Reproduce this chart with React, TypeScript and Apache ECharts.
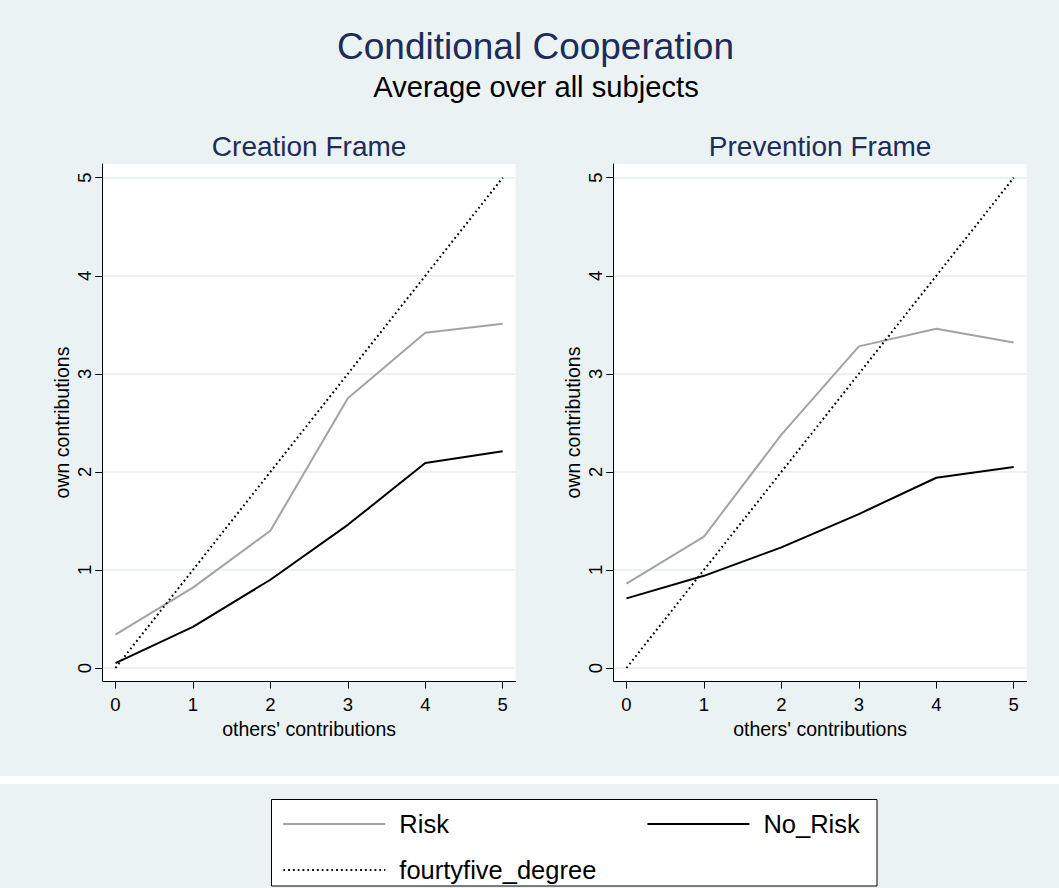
import React, { useEffect, useRef } from 'react';
import * as echarts from 'echarts';

const FONT = '"Liberation Sans", Arial, Helvetica, sans-serif';

// ---- data ----
const xValues = [0, 1, 2, 3, 4, 5];
const creationRisk = [0.34, 0.82, 1.4, 2.75, 3.42, 3.51];
const creationNoRisk = [0.05, 0.42, 0.9, 1.46, 2.09, 2.21];
const preventionRisk = [0.86, 1.34, 2.38, 3.28, 3.46, 3.32];
const preventionNoRisk = [0.71, 0.94, 1.23, 1.57, 1.94, 2.05];
const fortyFive = [0, 1, 2, 3, 4, 5];
const xTicks = [0, 1, 2, 3, 4, 5];
const yTicks = [0, 1, 2, 3, 4, 5];
const panelTitles = ['Creation Frame', 'Prevention Frame'];
const seriesNames = ['Risk', 'No_Risk', 'fourtyfive_degree'];

const BG = '#eaf2f3';
const NAVY = '#1e2c58';
const GRAY = '#a3a3a3';

const pairs = (ys: number[]) => xValues.map((x, i) => [x, ys[i]]);

const gridLefts = [102.7, 613.7];
const GRID_TOP = 164;
const GRID_W = 412.8;
const GRID_H = 517;

function makeXAxis(gi: number) {
  return {
    type: 'value',
    gridIndex: gi,
    min: -0.165,
    max: 5.165,
    name: "others' contributions",
    nameLocation: 'middle',
    nameGap: 28,
    nameTextStyle: { fontSize: 19.5, fontFamily: FONT, color: '#000' },
    axisLine: { show: true, onZero: false, lineStyle: { color: '#000', width: 1 } },
    axisTick: { show: true, length: 7.5, customValues: xTicks, lineStyle: { color: '#000', width: 1 } },
    axisLabel: { customValues: xTicks, fontSize: 18.5, fontFamily: FONT, color: '#000', margin: 14 },
    splitLine: { show: false },
  };
}

function makeYAxis(gi: number) {
  return {
    type: 'value',
    gridIndex: gi,
    min: -0.1326,
    max: 5.14,
    name: 'own contributions',
    nameLocation: 'middle',
    nameRotate: 90,
    nameGap: 31,
    nameTextStyle: { fontSize: 19.5, fontFamily: FONT, color: '#000' },
    axisLine: { show: true, onZero: false, lineStyle: { color: '#000', width: 1 } },
    axisTick: { show: true, length: 7.5, customValues: yTicks, lineStyle: { color: '#000', width: 1 } },
    axisLabel: { customValues: yTicks, fontSize: 18.5, fontFamily: FONT, color: '#000', margin: 9, rotate: 90 },
    splitLine: { show: true, lineStyle: { color: '#e4edef', width: 1.5 } },
  };
}

function makeSeries(gi: number, risk: number[], noRisk: number[]) {
  return [
    {
      name: seriesNames[0],
      type: 'line',
      xAxisIndex: gi,
      yAxisIndex: gi,
      symbol: 'none',
      data: pairs(risk),
      lineStyle: { color: GRAY, width: 2 },
      itemStyle: { color: GRAY },
    },
    {
      name: seriesNames[1],
      type: 'line',
      xAxisIndex: gi,
      yAxisIndex: gi,
      symbol: 'none',
      data: pairs(noRisk),
      lineStyle: { color: '#000', width: 2 },
      itemStyle: { color: '#000' },
    },
    {
      name: seriesNames[2],
      type: 'line',
      xAxisIndex: gi,
      yAxisIndex: gi,
      symbol: 'none',
      data: pairs(fortyFive),
      lineStyle: { color: '#000', width: 2, type: [1.8, 3], cap: 'butt' },
      itemStyle: { color: '#000' },
    },
  ];
}

function makeLegend(name: string, left: number, top: number) {
  return {
    data: [name],
    left,
    top,
    padding: 0,
    itemWidth: 102,
    itemHeight: 14,
    selectedMode: false,
    z: 6,
    itemStyle: { color: 'transparent', borderColor: 'transparent', borderWidth: 0, opacity: 0 },
    textStyle: {
      fontSize: 25.5,
      lineHeight: 26,
      fontFamily: FONT,
      color: '#000',
      padding: [5.6, 0, 0, 9],
    },
  };
}

export default function App() {
  const ref = useRef<HTMLDivElement>(null);
  useEffect(() => {
    const chart = echarts.init(ref.current!, null, { renderer: 'svg' });
    const option: any = {
      animation: false,
      backgroundColor: BG,
      grid: gridLefts.map((l) => ({
        left: l,
        top: GRID_TOP,
        width: GRID_W,
        height: GRID_H,
        show: true,
        backgroundColor: '#fff',
        borderWidth: 0,
        containLabel: false,
        outerBoundsMode: 'none',
      })),
      xAxis: [makeXAxis(0), makeXAxis(1)],
      yAxis: [makeYAxis(0), makeYAxis(1)],
      legend: [
        makeLegend(seriesNames[0], 282.3, 808.2),
        makeLegend(seriesNames[1], 646.4, 808.2),
        makeLegend(seriesNames[2], 282.3, 854.2),
      ],
      series: [
        ...makeSeries(0, creationRisk, creationNoRisk),
        ...makeSeries(1, preventionRisk, preventionNoRisk),
      ],
      graphic: [
        { type: 'rect', z: 0, shape: { x: 0, y: 776, width: 1059, height: 8 }, style: { fill: '#fff' } },
        {
          type: 'rect',
          z: 1,
          shape: { x: 271.5, y: 799.5, width: 605.5, height: 86.5 },
          style: { fill: '#fff', stroke: '#000', lineWidth: 1 },
        },
        {
          type: 'text',
          z: 5,
          x: 535.5,
          y: 46,
          style: { text: 'Conditional Cooperation', fontSize: 37, fontFamily: FONT, fill: NAVY, align: 'center', verticalAlign: 'middle' },
        },
        {
          type: 'text',
          z: 5,
          x: 536,
          y: 87,
          style: { text: 'Average over all subjects', fontSize: 29.2, fontFamily: FONT, fill: '#000', align: 'center', verticalAlign: 'middle' },
        },
        ...panelTitles.map((t, i) => ({
          type: 'text',
          z: 5,
          x: gridLefts[i] + GRID_W / 2,
          y: 146,
          style: { text: t, fontSize: 28, fontFamily: FONT, fill: NAVY, align: 'center', verticalAlign: 'middle' },
        })),
      ],
    };
    chart.setOption(option);
    return () => chart.dispose();
  }, []);
  return <div ref={ref} style={{ position: 'fixed', left: 0, top: 0, width: 1059, height: 888 }} />;
}
